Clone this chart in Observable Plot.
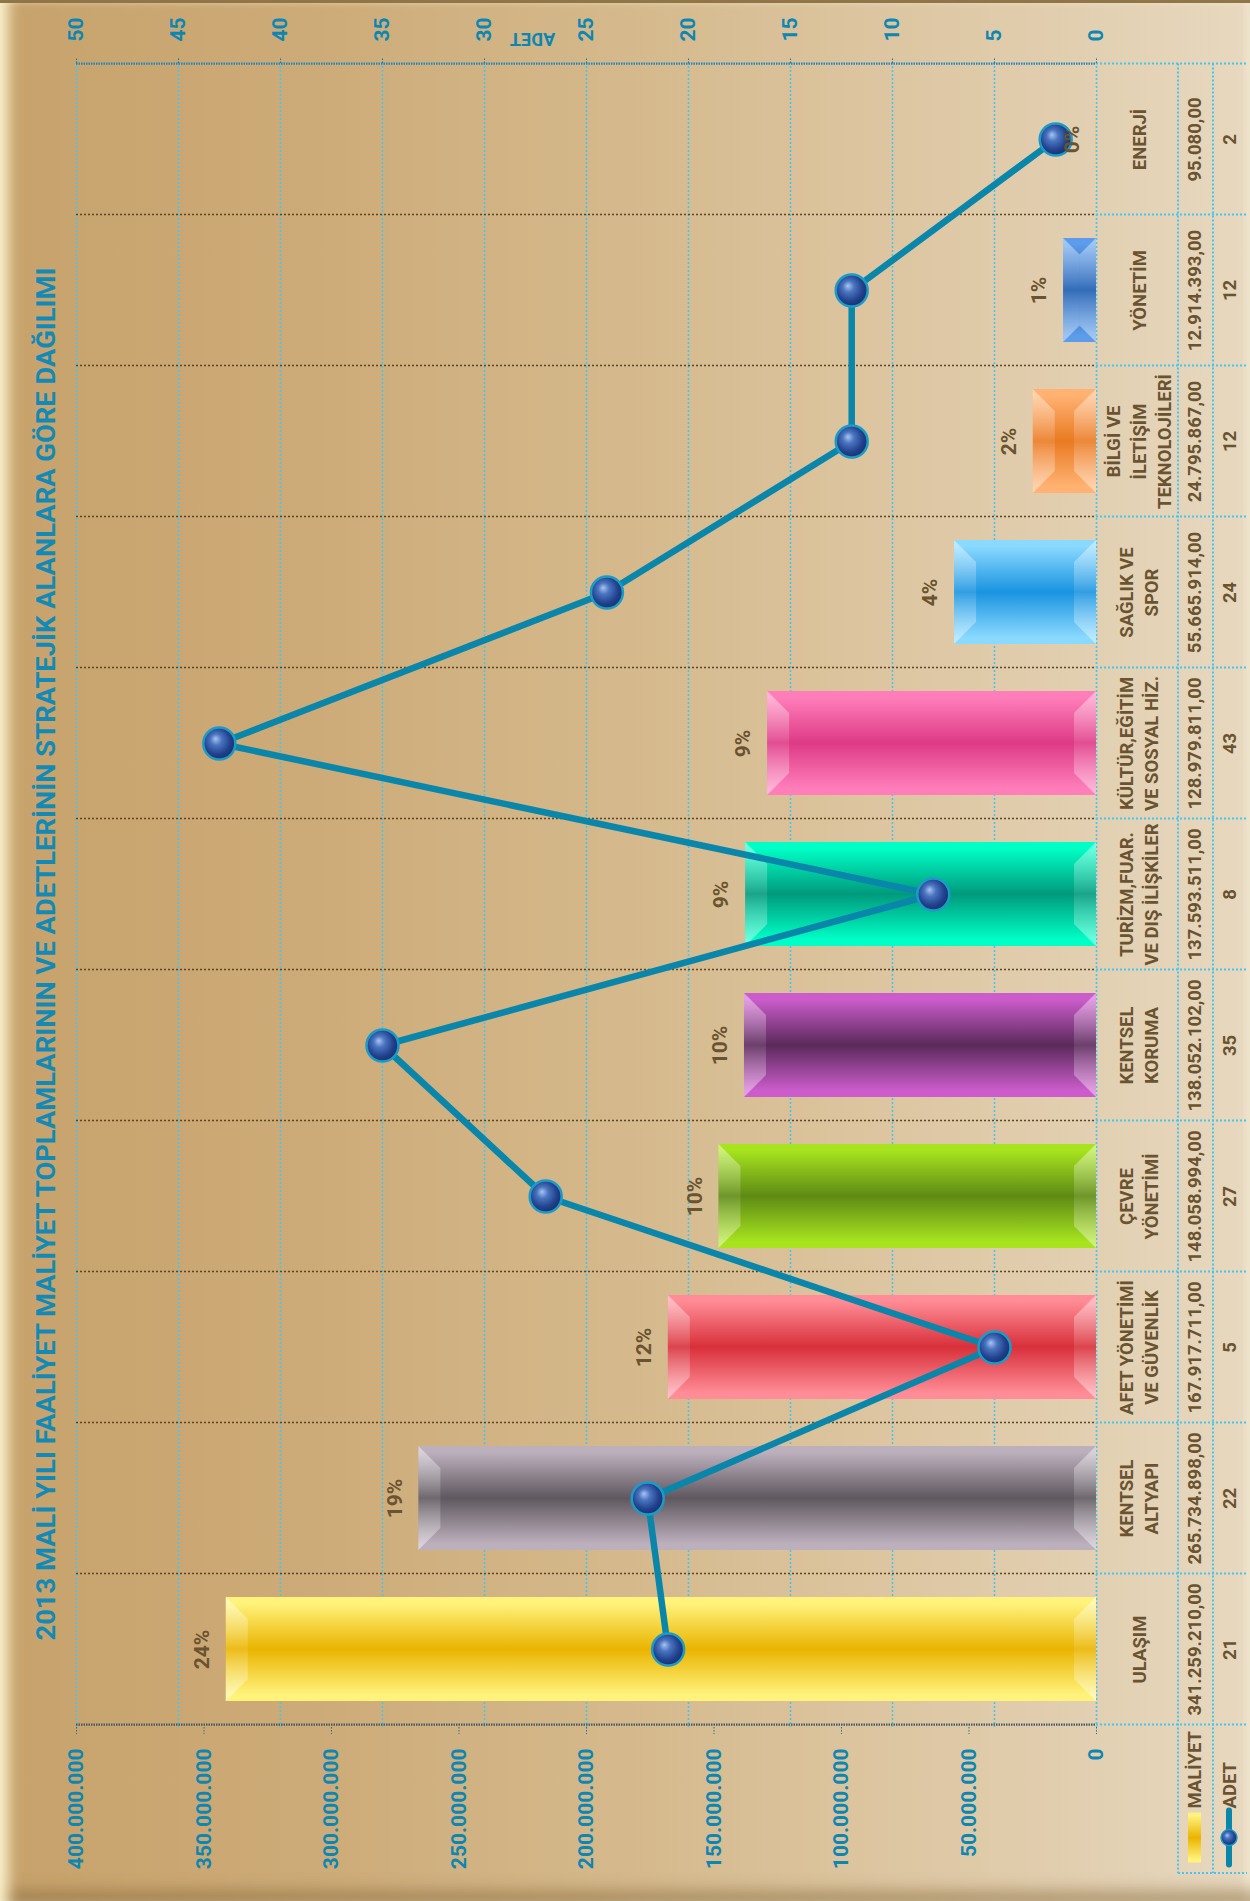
<!DOCTYPE html>
<html><head><meta charset="utf-8">
<script src="https://cdn.jsdelivr.net/npm/d3@7"></script>
<script src="https://cdn.jsdelivr.net/npm/@observablehq/plot@0.6"></script>
<style>
html,body{margin:0;padding:0;}
body{width:1250px;height:1901px;overflow:hidden;position:relative;
 background: linear-gradient(to right, #c7a26b 0%, #cdab78 25%, #d5b98c 50%, #dec8a5 75%, #e7d8bf 100%);}
#frame{position:absolute;left:0;top:0;width:1250px;height:1901px;box-sizing:border-box;
 border-top:3px solid #8f7548;
 box-shadow: inset 16px 0 14px -8px rgba(255,248,212,0.95), inset 0 -18px 16px -8px rgba(125,95,50,0.5), inset -8px 0 8px -4px rgba(255,246,228,0.8);}
#chart{position:absolute;left:0;top:0;}
</style></head><body><div id="frame"></div><div id="chart"></div>
<script>
const categories = ["ULAŞIM", "KENTSEL ALTYAPI", "AFET YÖNETİMİ VE GÜVENLİK", "ÇEVRE YÖNETİMİ", "KENTSEL KORUMA", "TURİZM,FUAR. VE DIŞ İLİŞKİLER", "KÜLTÜR,EĞİTİM VE SOSYAL HİZ.", "SAĞLIK VE SPOR", "BİLGİ VE İLETİŞİM TEKNOLOJİLERİ", "YÖNETİM", "ENERJİ"];
const categoryLines = ["ULAŞIM", "KENTSEL\nALTYAPI", "AFET YÖNETİMİ\nVE GÜVENLİK", "ÇEVRE\nYÖNETİMİ", "KENTSEL\nKORUMA", "TURİZM,FUAR.\nVE DIŞ İLİŞKİLER", "KÜLTÜR,EĞİTİM\nVE SOSYAL HİZ.", "SAĞLIK VE\nSPOR", "BİLGİ VE\nİLETİŞİM\nTEKNOLOJİLERİ", "YÖNETİM", "ENERJİ"];
const maliyet = [341259210, 265734898, 167917711, 148058994, 138052102, 137593511, 128979811, 55665914, 24795867, 12914393, 95080];
const adet = [21, 22, 5, 27, 35, 8, 43, 24, 12, 12, 2];
const percentLabels = ["24%", "19%", "12%", "10%", "10%", "9%", "9%", "4%", "2%", "1%", "0%"];
const maliyetTicks = [0, 50000000, 100000000, 150000000, 200000000, 250000000, 300000000, 350000000, 400000000];
const adetTicks = [0, 5, 10, 15, 20, 25, 30, 35, 40, 45, 50];
const titleText = "2013 MALİ YILI FAALİYET MALİYET TOPLAMLARININ VE ADETLERİNİN STRATEJİK ALANLARA GÖRE DAĞILIMI";
const seriesNames = ["MALİYET", "ADET"];

// palette (styles kept apart from data)
const barLight = ["#fff37c", "#bdb0bd", "#ff8c96", "#a8e41e", "#cc5ccc", "#00ffc6", "#ff7eba", "#8ad9ff", "#ffb272", "#5c9cea", "#fff37c"];
const barDark  = ["#eab400", "#5f585f", "#d8303a", "#5e8a14", "#5a2a5a", "#009a7c", "#de3a86", "#1a94e0", "#ea7a22", "#1c5cb0", "#eab400"];
const brown = "#6a5330", teal = "#0d86b2", cyan = "#45c6f0";

const trLocale = d3.formatLocale({decimal: ",", thousands: ".", grouping: [3], currency: ["", ""]});
const fmtTick = trLocale.format(",.0f");
const fmtVal = trLocale.format(",.2f");

const rows = categories.map((c, i) => ({cat: c, lines: categoryLines[i], maliyet: maliyet[i], adet: adet[i], pct: percentLabels[i], i}));
const K = maliyetTicks[maliyetTicks.length - 1] / adetTicks[adetTicks.length - 1];

const W = 1250, H = 1901, ML = 76, MR = 154, MT = 62, MB = 174;
const colLabel = 41, colVal = 99, colAdet = 134, tableL = 1178, tableM = 1213, tableR = 1247, legendBottom = 1873;
const titleLength = 1373;

function defs() {
  const g = d3.create("svg:g");
  const d = g.append("defs");
  barLight.forEach((lc, i) => {
    const lg = d.append("linearGradient").attr("id", "bar" + i).attr("x1", 0).attr("y1", 0).attr("x2", 0).attr("y2", 1);
    [[0, lc], [0.06, lc], [0.5, barDark[i]], [0.94, lc], [1, lc]].forEach(([o, c]) =>
      lg.append("stop").attr("offset", o).attr("stop-color", c));
  });
  const rg = d.append("radialGradient").attr("id", "dotg").attr("cx", 0.45).attr("cy", 0.45).attr("r", 0.6).attr("fx", 0.38).attr("fy", 0.35);
  [[0, "#a8c4f0"], [0.3, "#4a74c0"], [0.7, "#21418c"], [1, "#152e68"]].forEach(([o, c]) =>
    rg.append("stop").attr("offset", o).attr("stop-color", c));
  const bv = d.append("linearGradient").attr("id", "bevel").attr("x1", 0).attr("y1", 0).attr("x2", 0).attr("y2", 1);
  [[0, 0.45], [0.5, 0.1], [1, 0.45]].forEach(([o, a]) =>
    bv.append("stop").attr("offset", o).attr("stop-color", "#ffffff").attr("stop-opacity", a));
  return g.node();
}

function separators(index, scales, values, dims) {
  const y = scales.y, step = y.step(), half = y.paddingInner() * step / 2;
  const x0 = dims.marginLeft, x1 = dims.width - dims.marginRight;
  const g = d3.create("svg:g");
  const dom = y.domain();
  const bounds = dom.map(c => y(c) - half).concat([y(dom[dom.length - 1]) - half + step]);
  bounds.forEach((b, k) => {
    const edge = k === 0 || k === bounds.length - 1;
    g.append("line").attr("x1", x0).attr("x2", x1).attr("y1", b).attr("y2", b)
      .attr("stroke", edge ? (k === 0 ? "#1f86bd" : "#3f5b66") : "#5b4526")
      .attr("stroke-width", edge ? 2.4 : 1.5).attr("stroke-dasharray", edge ? "1.5,1" : "2,2");
    g.append("line").attr("x1", x1).attr("x2", tableR).attr("y1", b).attr("y2", b)
      .attr("stroke", cyan).attr("stroke-width", 2).attr("stroke-dasharray", "2,2");
  });
  const top = bounds[0], bottom = bounds[bounds.length - 1];
  [tableL, tableM].forEach(x => g.append("line").attr("x1", x).attr("x2", x).attr("y1", top).attr("y2", legendBottom)
    .attr("stroke", cyan).attr("stroke-width", 2).attr("stroke-dasharray", "2,2"));
  g.append("line").attr("x1", tableL).attr("x2", tableR).attr("y1", legendBottom).attr("y2", legendBottom)
    .attr("stroke", cyan).attr("stroke-width", 2).attr("stroke-dasharray", "2,2");
  // legend symbols
  const sy = bottom + 88;
  g.append("rect").attr("x", tableL + 10).attr("y", sy).attr("width", 13).attr("height", 50).attr("fill", "url(#bar0)");
  const lx = tableM + 16;
  g.append("line").attr("x1", lx).attr("x2", lx).attr("y1", sy - 2).attr("y2", sy + 52)
    .attr("stroke", "#0a86ab").attr("stroke-width", 6).attr("stroke-linecap", "round");
  g.append("circle").attr("cx", lx).attr("cy", sy + 25).attr("r", 8).attr("fill", "url(#dotg)").attr("stroke", "#1b9cc8").attr("stroke-width", 1.5);
  return g.node();
}

function bevels(index, scales) {
  const x = scales.x, y = scales.y, bw = y.bandwidth();
  const g = d3.create("svg:g");
  rows.forEach(r => {
    const xa = x(r.maliyet), xb = x(0), top = y(r.cat), bot = top + bw;
    const w = Math.min(22, (xb - xa) / 2);
    if (w < 1) return;
    g.append("polygon").attr("points", `${xb},${top} ${xb - w},${top + w} ${xb - w},${bot - w} ${xb},${bot}`).attr("fill", "url(#bevel)");
    g.append("polygon").attr("points", `${xa},${top} ${xa + w},${top + w} ${xa + w},${bot - w} ${xa},${bot}`).attr("fill", "url(#bevel)");
  });
  return g.node();
}

const txt = {fill: brown, fontWeight: "bold", fontFamily: "Roboto", rotate: -90, textAnchor: "middle", lineAnchor: "middle"};

const plot = Plot.plot({
  width: W, height: H, marginLeft: ML, marginRight: MR, marginTop: MT, marginBottom: MB,
  style: {background: "transparent", overflow: "visible"},
  x: {domain: [maliyetTicks[0], maliyetTicks[maliyetTicks.length - 1]], reverse: true},
  y: {type: "band", domain: categories.slice().reverse(), paddingInner: 0.31, paddingOuter: 0.155, axis: null},
  color: {type: "identity"},
  marks: [
    defs,
    Plot.gridX(adetTicks.map(v => v * K), {stroke: cyan, strokeOpacity: 1, strokeWidth: 1.6, strokeDasharray: "2,2"}),
    separators,
    Plot.barX(rows, {x: "maliyet", y: "cat", fill: d => `url(#bar${d.i})`}),
    bevels,
    Plot.line(rows, {x: d => d.adet * K, y: "cat", stroke: "#0a86ab", strokeWidth: 6.5, strokeLinejoin: "round"}),
    Plot.dot(rows, {x: d => d.adet * K, y: "cat", r: 16, fill: "url(#dotg)", stroke: "#1b9cc8", strokeWidth: 2.5}),
    Plot.text(rows, {...txt, x: "maliyet", y: "cat", text: "pct", dx: -24, fontSize: 21}),
    Plot.axisX({anchor: "bottom", ticks: maliyetTicks, tickFormat: fmtTick, tickRotate: -90, tickSize: 7, tickPadding: 14, label: null,
      fill: teal, stroke: "#2b6f8a", strokeDasharray: "1.5,1.5", fontSize: 21, fontWeight: "bold", fontFamily: "Roboto"}),
    Plot.axisX({anchor: "top", ticks: adetTicks.map(v => v * K), tickFormat: d => String(Math.round(d / K)), tickRotate: -90, tickSize: 6, tickPadding: 15, label: null,
      fill: teal, stroke: "#2b6f8a", strokeDasharray: "1.5,1.5", fontSize: 21, fontWeight: "bold", fontFamily: "Roboto"}),
    Plot.text([seriesNames[1]], {frameAnchor: "top", dx: -54, dy: -24, rotate: 180, textAnchor: "middle", lineAnchor: "middle", fill: teal, fontSize: 18, fontWeight: "bold", fontFamily: "Roboto"}),
    Plot.text(rows, {...txt, y: "cat", frameAnchor: "right", dx: colLabel, text: "lines", lineHeight: 1.36, fontSize: 18.5}),
    Plot.text(rows, {...txt, y: "cat", frameAnchor: "right", dx: colVal, text: d => fmtVal(d.maliyet), fontSize: 18.5}),
    Plot.text(rows, {...txt, y: "cat", frameAnchor: "right", dx: colAdet, text: d => String(d.adet), fontSize: 18.5}),
    Plot.text([seriesNames[0]], {...txt, frameAnchor: "bottom-right", dx: colVal, dy: 81, textAnchor: "start", fontSize: 18.5}),
    Plot.text([seriesNames[1]], {...txt, frameAnchor: "bottom-right", dx: colAdet, dy: 81, textAnchor: "start", fontSize: 18.5}),
    Plot.text([titleText], {...txt, frameAnchor: "left", dx: -30, dy: 59, fill: "#138ab6", fontSize: 26})
  ]
});
plot.querySelectorAll("text").forEach(t => {
  if (t.textContent === titleText) { t.setAttribute("textLength", titleLength); t.setAttribute("lengthAdjust", "spacingAndGlyphs"); }
});
document.getElementById("chart").appendChild(plot);
</script></body></html>
